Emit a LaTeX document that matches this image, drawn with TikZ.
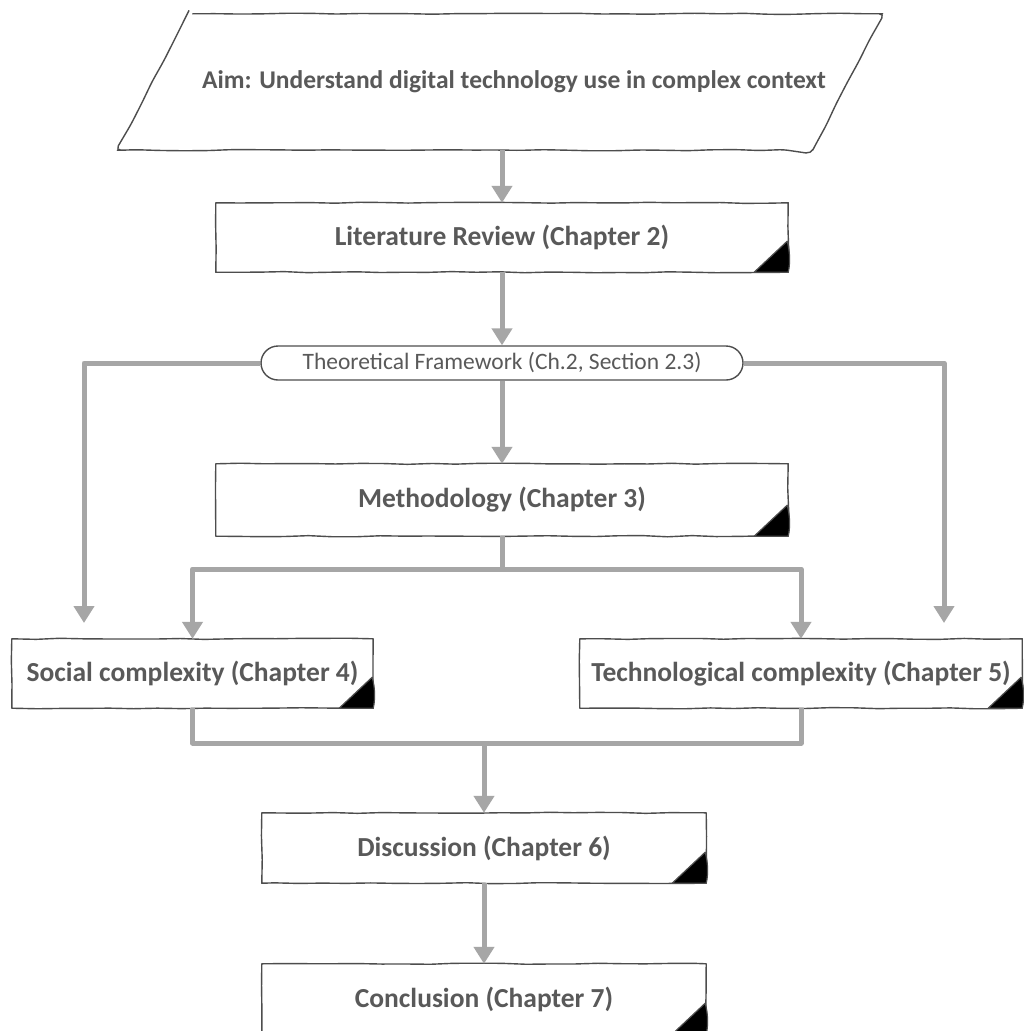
\documentclass[tikz,border=0pt]{standalone}
\usepackage{fontspec}
\setmainfont{Carlito}
\usetikzlibrary{arrows.meta,decorations.pathmorphing,calc,shapes.misc}
\definecolor{inkgray}{HTML}{595959}
\definecolor{edgegray}{HTML}{4D4D4D}
\definecolor{flowgray}{HTML}{A6A6A6}
\begin{document}
\begin{tikzpicture}[x=1pt,y=-1pt,
  sketch/.style={decorate,decoration={random steps,segment length=24pt,amplitude=0.6pt}},
  edge/.style={draw=edgegray,line width=1.4pt,line join=round},
  chapbox/.style={rectangle,draw=none,text=inkgray,inner sep=0pt,
    font=\bfseries\fontsize{27.5}{32}\selectfont},
  flow/.style={draw=flowgray,line width=5pt,line join=round},
  flowarrow/.style={flow,-{Triangle[width=20pt,length=17pt]}},
]
\pgfmathsetseed{7}
\useasboundingbox[fill=white] (0,0) rectangle (1023,1031);

% aim: parallelogram frame and its caption
\node[rectangle,draw=none,inner sep=0pt,minimum width=695pt,minimum height=136pt] (aim) at (500,82) {};
\draw[edge,sketch,rounded corners=5pt]
  ($(aim.north west)+(35,0)$) -- ($(aim.north east)+(35,0)$)
  -- ($(aim.south east)+(-35,0)$) -- ($(aim.south west)+(-35,0)$) -- cycle;
\node[chapbox,font=\bfseries\fontsize{25.5}{30}\selectfont] (aimtext) at (514,82)
  {Aim: Understand digital technology use in complex context};

% chapter boxes
\node[chapbox,minimum width=572pt,minimum height=69pt] (lit) at (502,237.5) {Literature Review (Chapter 2)};
\node[rounded rectangle,draw=edgegray,line width=1.4pt,fill=white,text=inkgray,
  minimum width=482pt,minimum height=34pt,inner sep=0pt,
  font=\fontsize{23.5}{28}\selectfont] (theo) at (502,363) {Theoretical Framework (Ch.2, Section 2.3)};
\node[chapbox,minimum width=572pt,minimum height=72pt] (meth) at (502,500) {Methodology (Chapter 3)};
\node[chapbox,minimum width=361pt,minimum height=69pt] (social) at (192.5,673.5) {Social complexity (Chapter 4)};
\node[chapbox,minimum width=442pt,minimum height=69pt] (tech) at (801,673.5) {Technological complexity (Chapter 5)};
\node[chapbox,minimum width=444pt,minimum height=70pt] (disc) at (484,848) {Discussion (Chapter 6)};
\node[chapbox,minimum width=444pt,minimum height=70pt] (conc) at (484,999) {Conclusion (Chapter 7)};

% box outlines with the folded black corner
\foreach \n in {lit,meth,social,tech,disc,conc}{
  \draw[edge,sketch] (\n.north west) -- (\n.north east) -- (\n.south east)
    -- (\n.south west) -- cycle;
  \filldraw[fill=black,draw=edgegray,line width=1.2pt,line join=round]
    ($(\n.south east)+(-34,0)$) -- ($(\n.south east)+(-1,-31)$)
    .. controls ($(\n.south east)+(2,-20)$) and ($(\n.south east)+(2,-8)$) ..
    (\n.south east) -- cycle;
}

% free ends and junctions
\coordinate (leftend) at (84,623);
\coordinate (rightend) at (944,623);
\coordinate (split) at (502,569);
\coordinate (merge) at (484,743);

% connectors
\draw[flowarrow] (lit.north |- aim.south) -- (lit.north);
\draw[flowarrow] (lit.south) -- (theo.north);
\draw[flowarrow] (theo.south) -- (meth.north);
\draw[flowarrow] (theo.west) -| (leftend);
\draw[flowarrow] (theo.east) -| (rightend);
\draw[flow] (meth.south) -- (split);
\draw[flowarrow] (split) -| (social.north);
\draw[flowarrow] (split) -| (tech.north);
\draw[flow] (social.south) -- (social.south |- merge) -- (tech.south |- merge) -- (tech.south);
\draw[flowarrow] (merge) -- (disc.north);
\draw[flowarrow] (disc.south) -- (conc.north);
\end{tikzpicture}
\end{document}
